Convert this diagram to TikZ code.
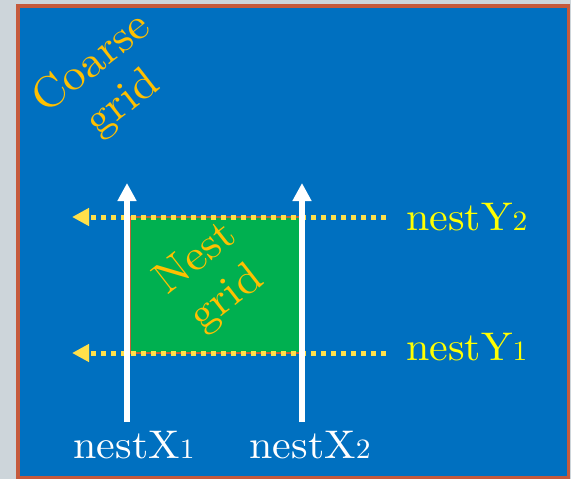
\documentclass[tikz,border=0pt]{standalone}
\usepackage{fontspec}
\usetikzlibrary{arrows.meta}
\newfontfamily\widefont{lmroman10-regular}[Extension=.otf, FakeStretch=1.05]
\definecolor{bgray}{HTML}{CDD5DA}
\definecolor{panelblue}{HTML}{0070C0}
\definecolor{panelborder}{HTML}{C55A3C}
\definecolor{nestgreen}{HTML}{00B050}
\definecolor{nestedge}{HTML}{C0603A}
\definecolor{gridtext}{HTML}{FFC000}
\definecolor{labelyellow}{HTML}{FFFF00}
\definecolor{dotyellow}{HTML}{FFE04A}
\tikzset{
  bigtext/.style={font=\widefont\fontsize{40}{40}\selectfont, inner sep=0pt},
  gridlabel/.style={inner sep=0pt, text=gridtext, rotate=38, align=center, font=\widefont\fontsize{44}{50}\selectfont},
  ylabel/.style={bigtext, text=labelyellow, anchor=base west},
  xlabel/.style={bigtext, text=white, anchor=base},
  whitearrow/.style={draw=white, line width=6pt, -{Triangle[length=18pt,width=18pt]}},
  dotline/.style={draw=dotyellow, line width=5pt, dash pattern=on 5pt off 5pt, line cap=butt, -{Triangle[length=17pt,width=17pt]}},
}
\newcommand{\osn}[1]{{\fontsize{28}{28}\selectfont #1}}
\begin{document}
\begin{tikzpicture}[x=1pt,y=-1pt]
\useasboundingbox (0,0) rectangle (571,479);
\fill[bgray] (0,0) rectangle (571,479);
\filldraw[fill=panelblue, draw=panelborder, line width=3.5pt] (18,6) rectangle (568.5,477.5);
% nest grid area
\filldraw[fill=nestgreen, draw=nestedge, line width=2pt] (130,217) rectangle (300,353);
% coordinates
\coordinate (x1b) at (127,422);
\coordinate (x1t) at (127,183);
\coordinate (x2b) at (302,422);
\coordinate (x2t) at (302,183);
\coordinate (y2r) at (386,217);
\coordinate (y2l) at (72,217);
\coordinate (y1r) at (386,353);
\coordinate (y1l) at (72,353);
% dotted lines
\draw[dotline] (y2r) -- (y2l);
\draw[dotline] (y1r) -- (y1l);
% white arrows
\draw[whitearrow] (x1b) -- (x1t);
\draw[whitearrow] (x2b) -- (x2t);
% labels
\node[gridlabel] (coarse) at (108,84) {Coarse\\grid};
\node[gridlabel] (nest) at (212,279) {Nest\\grid};
\node[ylabel] (ny2) at (406,230) {nestY\osn{2}};
\node[ylabel] (ny1) at (406,360) {nestY\osn{1}};
\node[xlabel] (nx1) at (134,458) {nestX\osn{1}};
\node[xlabel] (nx2) at (310,458) {nestX\osn{2}};
\end{tikzpicture}
\end{document}
